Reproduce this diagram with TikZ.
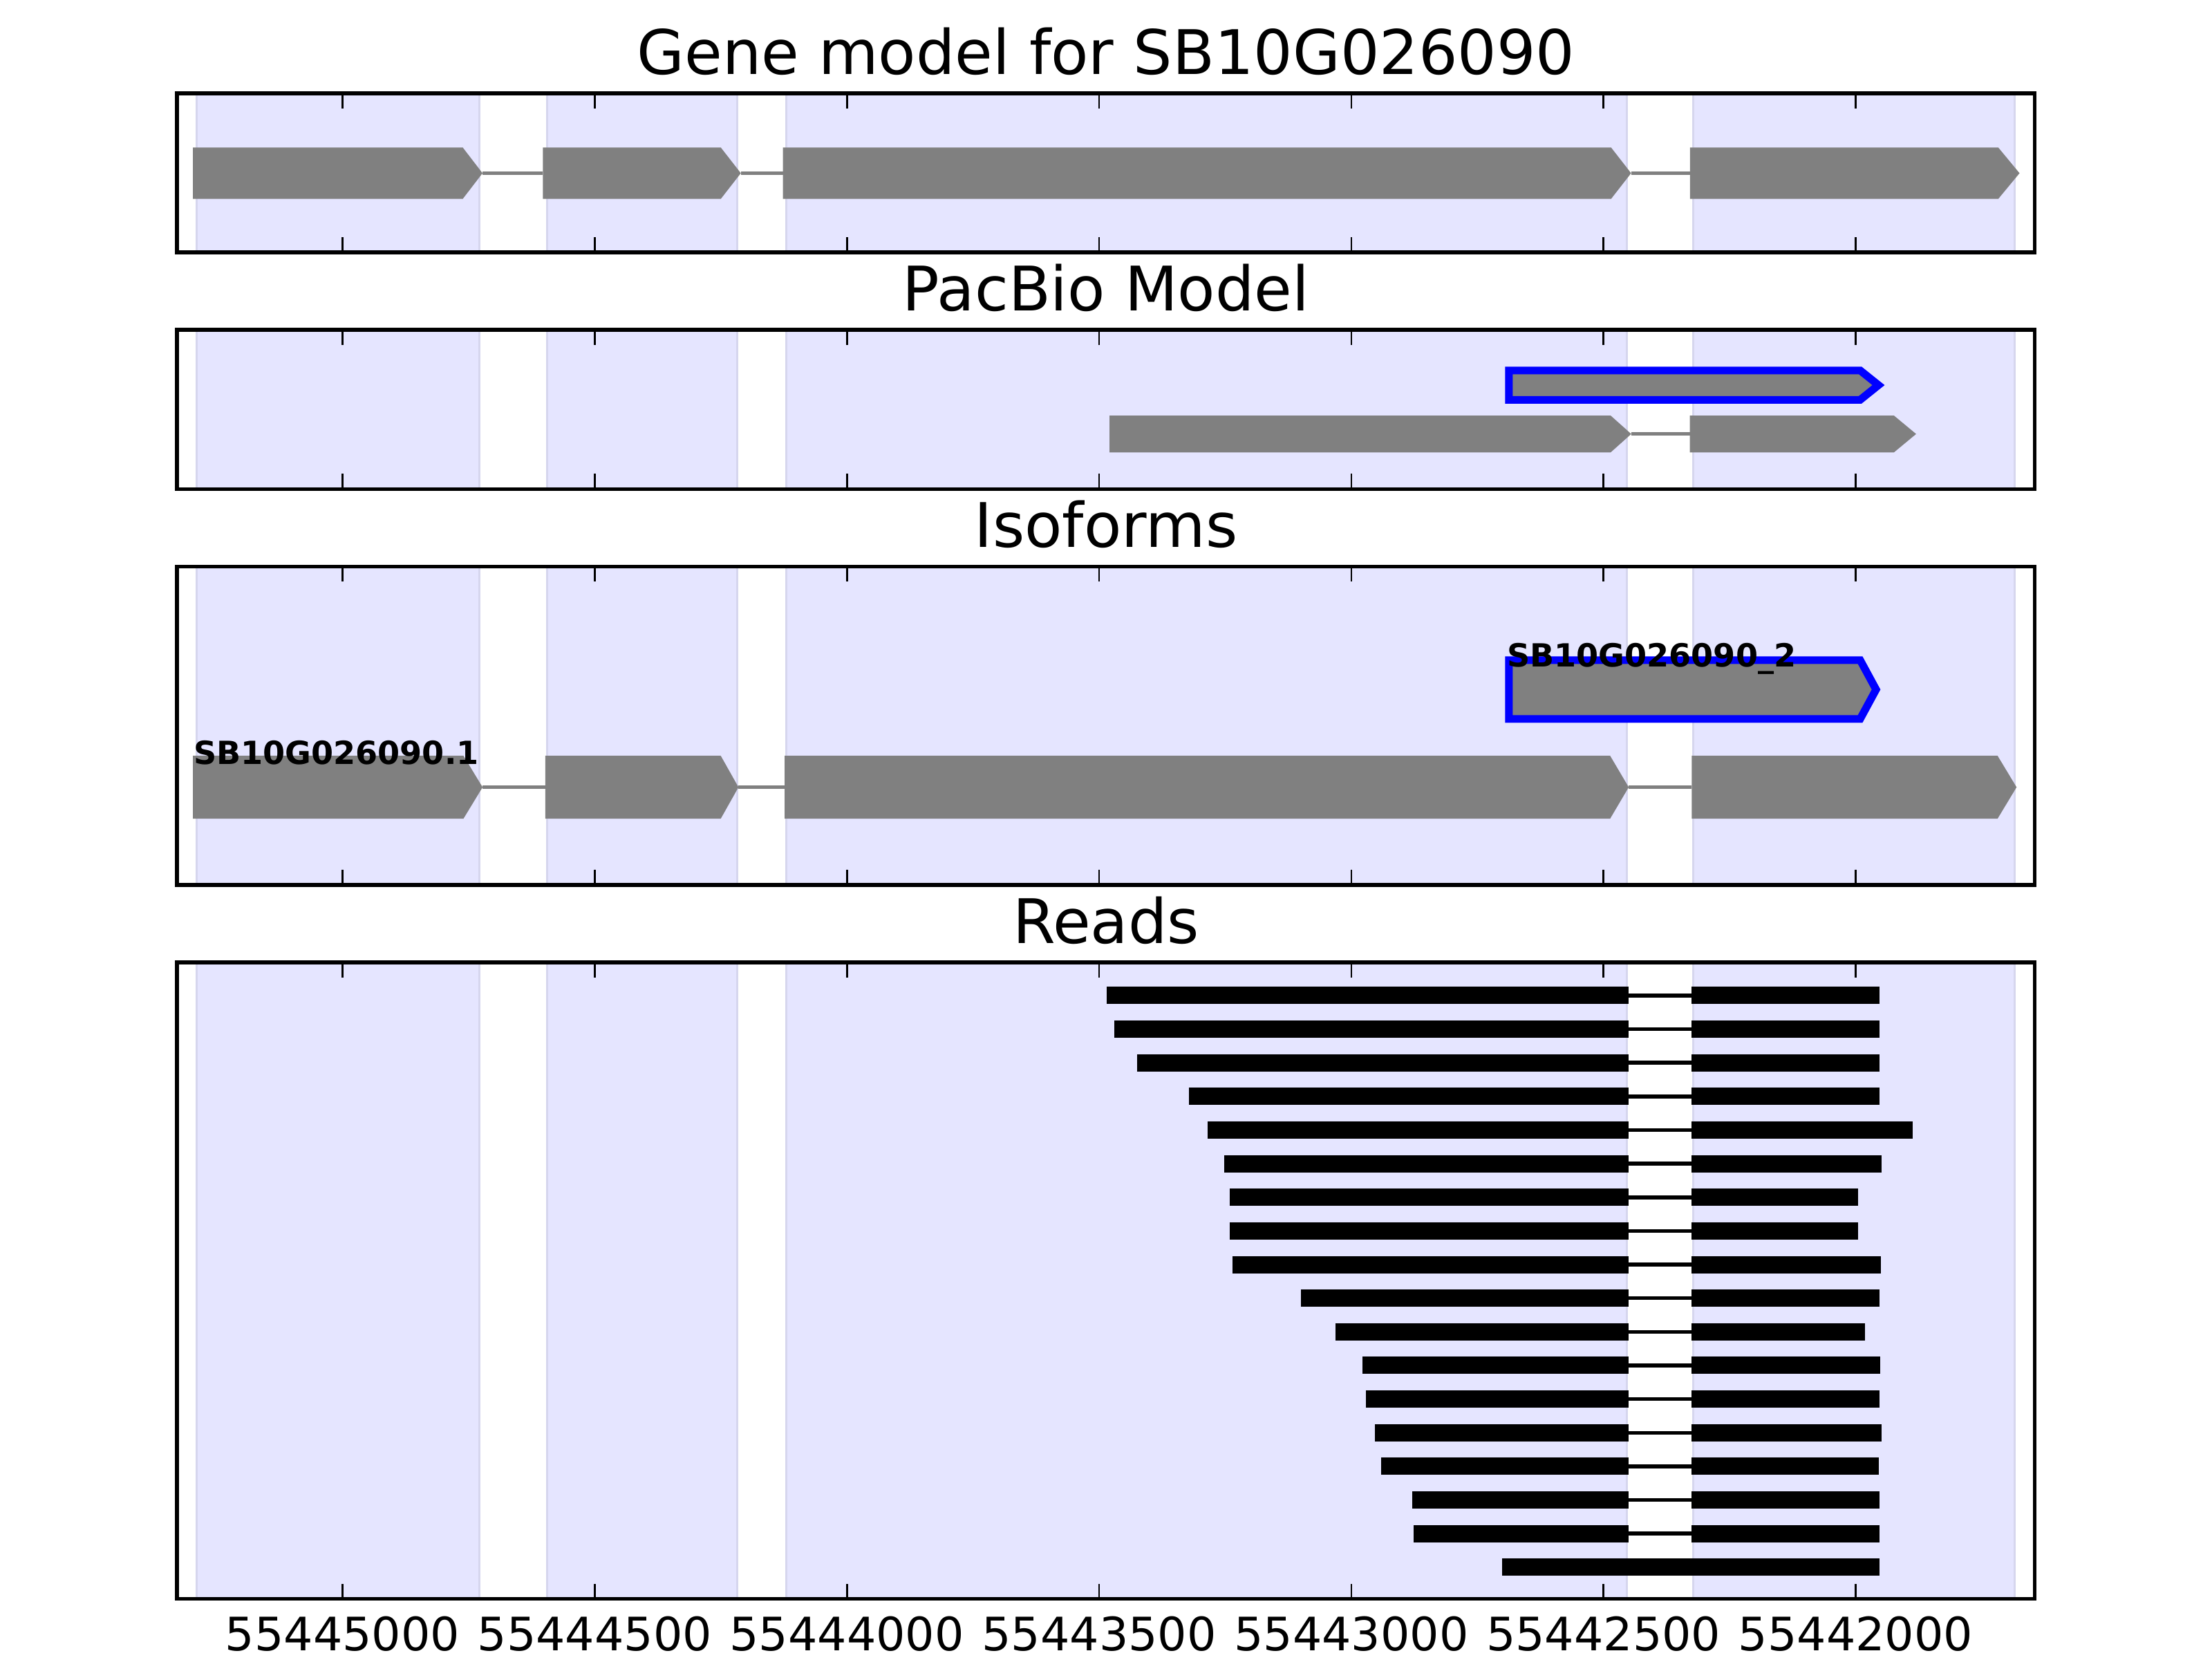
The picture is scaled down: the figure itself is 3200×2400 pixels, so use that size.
\documentclass[tikz,border=0pt]{standalone}
\usepackage{fontspec}
\setmainfont{DejaVu Sans}
\definecolor{spanfill}{RGB}{229,229,255}
\definecolor{spanedge}{RGB}{214,214,238}
\definecolor{exongray}{RGB}{128,128,128}
\definecolor{pbblue}{RGB}{0,0,255}
\newcommand\gexon[5]{\fill[exonshape] (#1,{#4-#5}) -- (#2,{#4-#5}) -- (#3,#4) -- (#2,{#4+#5}) -- (#1,{#4+#5}) -- cycle;}
\newcommand\gread[3]{%
  \fill[readbar] (#1,{#3-12.5}) rectangle (2356.2,{#3+12.5});
  \fill[readbar] (2447.1,{#3-12.5}) rectangle (#2,{#3+12.5});
  \draw[readline] (2356.2,#3) -- (2447.1,#3);}
\begin{document}
\begin{tikzpicture}[x=0.18pt,y=-0.18pt,
  bgspan/.style={fill=spanfill, draw=spanedge, line width=0.6pt},
  exonshape/.style={fill=exongray},
  intron/.style={draw=exongray, line width=1pt},
  pbox/.style={fill=exongray, draw=pbblue, line width=2pt, line join=miter},
  readbar/.style={fill=black},
  readline/.style={draw=black, line width=1pt},
  axframe/.style={draw=black, line width=1pt},
  tickmark/.style={draw=black, line width=0.5pt},
  ptitle/.style={font=\fontsize{16}{19}\selectfont, anchor=base, inner sep=0pt},
  ticklab/.style={font=\fontsize{12}{14}\selectfont, anchor=base, inner sep=0pt},
  glabel/.style={font=\fontsize{8.3}{10}\selectfont\bfseries, anchor=base west, inner sep=0pt}]
\useasboundingbox (0,0) rectangle (3200,2400);
% background spans
\foreach \t/\b in {135/365.2, 477.2/707.4, 819.4/1279.8, 1391.8/2312.6} {
  \foreach \l/\r in {284.8/693.7, 791.7/1066.8, 1137.3/2353.5, 2449.5/2914.5}
    \filldraw[bgspan] (\l,\t) rectangle (\r,\b);
}
% panel 1: gene model
\draw[intron] (698,250.5) -- (785.3,250.5);
\draw[intron] (1071.7,250.5) -- (1132.7,250.5);
\draw[intron] (2359.6,250.5) -- (2444.7,250.5);
\gexon{279}{669.4}{698}{250.5}{37.2}
\gexon{785.3}{1042.7}{1071.7}{250.5}{37.2}
\gexon{1132.7}{2330.6}{2359.6}{250.5}{37.2}
\gexon{2444.7}{2890.7}{2921.5}{250.5}{37.2}
% panel 2: PacBio model
\draw[pbox] (2182.8,535.8) -- (2691,535.8) -- (2717.5,557) -- (2691,578.3) -- (2182.8,578.3) -- cycle;
\draw[intron] (2359.8,627.7) -- (2444.6,627.7);
\gexon{1605}{2329.9}{2359.8}{627.7}{26.7}
\gexon{2444.6}{2739.7}{2771.9}{627.7}{26.7}
% panel 3: isoforms
\draw[pbox] (2182.8,954.8) -- (2691,954.8) -- (2714,997.3) -- (2691,1039.8) -- (2182.8,1039.8) -- cycle;
\draw[intron] (698.1,1138.6) -- (788.8,1138.6);
\draw[intron] (1068.3,1138.6) -- (1135,1138.6);
\draw[intron] (2356.1,1138.6) -- (2447.2,1138.6);
\gexon{279}{670.5}{698.1}{1138.6}{45.4}
\gexon{788.8}{1042.7}{1068.3}{1138.6}{45.4}
\gexon{1135}{2329.3}{2356.1}{1138.6}{45.4}
\gexon{2447.2}{2889.8}{2917.2}{1138.6}{45.4}
\node[glabel] (iso1) at (279,1105) {SB10G026090.1};
\node[glabel] (iso2) at (2179,964) {SB10G026090\_2};
% panel 4: reads
\foreach \l/\r [count=\i] in {1601.4/2718.8, 1611.9/2718.8, 1645.4/2718.8, 1720.0/2718.8,
  1746.8/2766.6, 1770.7/2721.7, 1779.3/2688.2, 1779.3/2688.2, 1783.2/2720.7,
  1881.7/2718.8, 1931.5/2697.7, 1970.7/2719.7, 1975.5/2718.8, 1988.9/2721.7,
  1997.5/2717.8, 2043.4/2718.8, 2045.3/2718.8} {
  \pgfmathsetmacro\yc{1439.8+(\i-1)*48.65}
  \gread{\l}{\r}{\yc}
}
\fill[readbar] (2172.5,{2266.9-12.5}) rectangle (2718.8,{2266.9+12.5});
% frames and ticks
\foreach \t/\b in {135/365.2, 477.2/707.4, 819.4/1279.8, 1391.8/2312.6} {
  \draw[axframe] (256,\t) rectangle (2943.5,\b);
  \foreach \k in {0,...,6} {
    \pgfmathsetmacro\tx{495.5+\k*364.85}
    \draw[tickmark] (\tx,\t) -- (\tx,{\t+22});
    \draw[tickmark] (\tx,\b) -- (\tx,{\b-22});
  }
}
% titles
\node[ptitle] (title1) at (1600,107.3) {Gene model for SB10G026090};
\node[ptitle] (title2) at (1600,449.5) {PacBio Model};
\node[ptitle] (title3) at (1600,791.7) {Isoforms};
\node[ptitle] (title4) at (1600,1364.1) {Reads};
% tick labels
\foreach \k/\lab in {0/55445000, 1/55444500, 2/55444000, 3/55443500, 4/55443000, 5/55442500, 6/55442000} {
  \pgfmathsetmacro\tx{495.5+\k*364.85}
  \node[ticklab] (tl\k) at (\tx,2387) {\lab};
}
\end{tikzpicture}
\end{document}
